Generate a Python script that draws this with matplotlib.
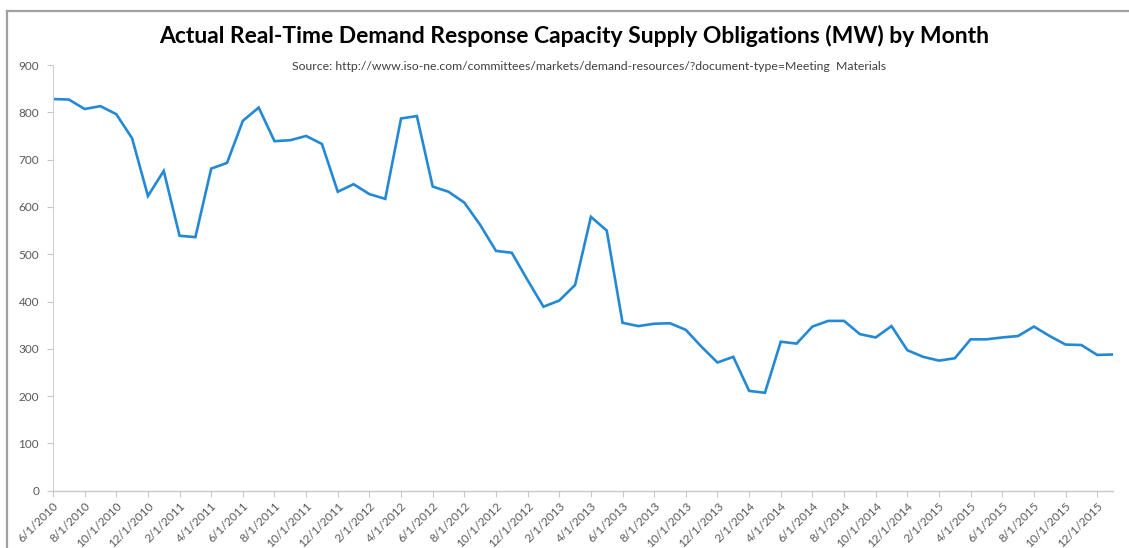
import matplotlib
matplotlib.use("Agg")
import matplotlib.pyplot as plt
import pandas as pd
from matplotlib.lines import Line2D

# ---------- data ----------
start_month = "2010-06-01"
values = [
    828, 827, 807, 813, 796, 745, 623, 676, 539, 536,
    681, 693, 782, 810, 739, 741, 750, 733, 632, 648,
    627, 617, 787, 792, 643, 632, 609, 562, 507, 503,
    445, 389, 402, 435, 579, 550, 355, 348, 353, 354,
    340, 304, 271, 283, 211, 207, 315, 311, 347, 359,
    359, 331, 324, 348, 297, 283, 275, 280, 320, 320,
    324, 327, 347, 327, 309, 308, 287, 288,
]
months = pd.date_range(start_month, periods=len(values), freq="MS")
tick_labels = [f"{d.month}/1/{d.year}" for d in months[::2]]

title = "Actual Real-Time Demand Response Capacity Supply Obligations (MW) by Month"
source = ("Source: http://www.iso-ne.com/committees/markets/demand-resources/"
          "?document-type=Meeting  Materials")

plt.rcParams["font.family"] = ["Lato", "DejaVu Sans"]

fig = plt.figure(figsize=(11.29, 5.48), dpi=100)
ax = fig.add_axes([53 / 1129, 57.3 / 548, (1113 - 53) / 1129, (490.7 - 65) / 548])

x = list(range(len(values)))
ax.plot(x, values, color="#2389D6", linewidth=1.9, solid_joinstyle="miter")

ax.set_xlim(0, len(values) - 1)
ax.set_ylim(0, 900)
ax.set_yticks(range(0, 901, 100))
ax.set_xticks(x[::2])
ax.set_xticklabels(tick_labels, rotation=45, ha="right", rotation_mode="anchor")

ax.tick_params(axis="y", colors="#C8C8C8", labelcolor="#595959", labelsize=8.5,
               length=4, width=0.8, pad=6)
ax.tick_params(axis="x", colors="#C8C8C8", labelcolor="#595959", labelsize=8.5,
               length=4, width=0.8, pad=3)

for s in ["top", "right"]:
    ax.spines[s].set_visible(False)
ax.spines["left"].set_color("#D0D0D0")
ax.spines["bottom"].set_color("#C8C8C8")
ax.spines["left"].set_linewidth(0.8)
ax.spines["bottom"].set_linewidth(1.0)

# ---------- titles ----------
fig.text(574 / 1129, 1 - 36 / 548, title, ha="center", va="center",
         fontsize=16.5, weight="bold", color="#000000")
fig.text(589 / 1129, 1 - 66 / 548, source, ha="center", va="center",
         fontsize=8.8, color="#404040")

# ---------- frame ----------
fig.add_artist(Line2D([7 / 1129, 1], [1 - 11 / 548, 1 - 11 / 548],
                      transform=fig.transFigure, color="#A0A0A0", linewidth=1.6))
fig.add_artist(Line2D([7 / 1129, 7 / 1129], [0, 1 - 11 / 548],
                      transform=fig.transFigure, color="#A0A0A0", linewidth=1.6))

fig.savefig("out.png", dpi=100)
